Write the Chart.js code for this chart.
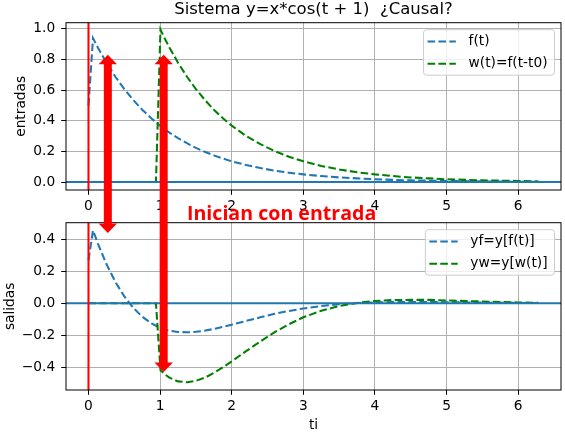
<!DOCTYPE html>
<html>
<head>
<meta charset="utf-8">
<script src="https://cdn.jsdelivr.net/npm/chart.js@4.4.1/dist/chart.umd.min.js"></script>
<style>
  html, body { margin: 0; padding: 0; background: #fff; }
  #fig { position: relative; width: 565px; height: 437px; }
  #fig canvas { position: absolute; left: 0; top: 0; }
</style>
</head>
<body>
<div id="fig">
  <canvas id="entradas" width="565" height="437"></canvas>
  <canvas id="salidas" width="565" height="437"></canvas>
</div>
<script>
(function () {
  'use strict';

  // ── data ────────────────────────────────────────────────────────────
  var t  = [0, 0.063, 0.13, 0.25, 0.38, 0.5, 0.63, 0.75, 0.88, 0.942,
            1.005, 1.07, 1.13, 1.25, 1.38, 1.5, 1.63, 1.75, 1.88, 2.0,
            2.2, 2.4, 2.6, 2.8, 3.0, 3.25, 3.5, 3.75, 4.0, 4.25,
            4.5, 4.75, 5.0, 5.5, 6.0, 6.28];
  var f  = [0.5, 0.939, 0.878, 0.779, 0.684, 0.607, 0.533, 0.472, 0.415, 0.39,
            0.366, 0.343, 0.323, 0.287, 0.252, 0.223, 0.196, 0.174, 0.153, 0.135,
            0.111, 0.091, 0.074, 0.061, 0.05, 0.039, 0.03, 0.024, 0.018, 0.014,
            0.011, 0.009, 0.007, 0.004, 0.002, 0.002];
  var w  = [0, 0, 0, 0, 0, 0, 0, 0, 0, 0,
            0.995, 0.932, 0.878, 0.779, 0.684, 0.607, 0.533, 0.472, 0.415, 0.368,
            0.301, 0.247, 0.202, 0.165, 0.135, 0.105, 0.082, 0.064, 0.05, 0.039,
            0.03, 0.024, 0.018, 0.011, 0.007, 0.005];
  var yf = [0.27, 0.456, 0.375, 0.245, 0.13, 0.043, -0.031, -0.084, -0.126, -0.141,
            -0.154, -0.164, -0.172, -0.18, -0.182, -0.179, -0.171, -0.161, -0.148, -0.134,
            -0.111, -0.088, -0.066, -0.048, -0.033, -0.017, -0.006, 0.001, 0.005, 0.007,
            0.008, 0.008, 0.006, 0.004, 0.002, 0.001];
  var yw = [0, 0, 0, 0, 0, 0, 0, 0, 0, 0,
            -0.419, -0.446, -0.466, -0.489, -0.495, -0.486, -0.465, -0.436, -0.4, -0.364,
            -0.3, -0.239, -0.181, -0.131, -0.088, -0.047, -0.017, 0.002, 0.014, 0.02,
            0.021, 0.021, 0.017, 0.011, 0.005, 0.003];

  var xTicks    = [0, 1, 2, 3, 4, 5, 6];
  var topYTicks = [0, 0.2, 0.4, 0.6, 0.8, 1.0];
  var botYTicks = [-0.4, -0.2, 0, 0.2, 0.4];
  var xRange    = [-0.314, 6.597];
  var topYRange = [-0.052, 1.04];
  var botYRange = [-0.543, 0.504];

  // double arrows: x, tip in top axes, tip in bottom axes
  var arrowX   = [0.27, 1.05];
  var arrowTop = [0.83, 0.83];
  var arrowBot = [0.44, -0.43];
  var noteText = 'Inician con entrada';
  var noteX = 1.375, noteY = 0.518;
  var titleText = 'Sistema y=x*cos(t + 1)  \u00bfCausal?';

  var BLUE = '#1f77b4', GREEN = '#008000', RED = '#ff0000';
  var FONT = 'DejaVu Sans';
  var FS = 13.75;
  var LW = 2.06;
  var DASH = [7.6, 3.3];
  Chart.defaults.font.family = FONT;
  Chart.defaults.font.size = FS;
  Chart.defaults.color = '#000';

  function pts(xs, ys) {
    return xs.map(function (x, i) { return { x: x, y: ys[i] }; });
  }

  function fmt(v) {
    return v.toFixed(1).replace('-', '\u2212');
  }

  function dashed(label, data, color, order) {
    return { label: label, data: data, borderColor: color, borderWidth: LW,
             borderDash: DASH, pointRadius: 0, tension: 0, order: order };
  }

  function solid(data, color, order) {
    return { label: '', data: data, borderColor: color, borderWidth: LW,
             pointRadius: 0, tension: 0, order: order };
  }

  // frame + in-axes legend (matplotlib style)
  var framePlugin = {
    id: 'frameLegend',
    afterDatasetsDraw: function (chart) {
      var a = chart.chartArea, ctx = chart.ctx;
      ctx.save();
      ctx.strokeStyle = '#000';
      ctx.lineWidth = 1;
      ctx.strokeRect(a.left, a.top, a.right - a.left, a.bottom - a.top);

      var items = chart.data.datasets.filter(function (d) { return d.label; });
      ctx.font = FS + 'px "' + FONT + '"';
      var tw = 0;
      items.forEach(function (it) { tw = Math.max(tw, ctx.measureText(it.label).width); });
      var width = 4 + 28.3 + 12.7 + tw + 7, height = 45.5;
      var right = a.right - 6.5, top = a.top + 7, left = right - width;
      ctx.fillStyle = 'rgba(255,255,255,0.8)';
      ctx.strokeStyle = '#cccccc';
      ctx.beginPath();
      ctx.roundRect(left, top, width, height, 3);
      ctx.fill();
      ctx.stroke();
      items.forEach(function (it, i) {
        var y = top + 11.8 + i * 22.2;
        ctx.strokeStyle = it.borderColor;
        ctx.lineWidth = LW;
        ctx.setLineDash(DASH);
        ctx.beginPath();
        ctx.moveTo(left + 4, y);
        ctx.lineTo(left + 32.3, y);
        ctx.stroke();
        ctx.setLineDash([]);
        ctx.fillStyle = '#000';
        ctx.textBaseline = 'middle';
        ctx.fillText(it.label, left + 45, y);
      });
      ctx.restore();
    }
  };

  // title centred over the axes, like matplotlib
  var titlePlugin = {
    id: 'axTitle',
    afterDraw: function (chart) {
      var a = chart.chartArea, ctx = chart.ctx;
      ctx.save();
      ctx.font = '16.5px "' + FONT + '"';
      ctx.fillStyle = '#000';
      ctx.textAlign = 'center';
      ctx.textBaseline = 'alphabetic';
      ctx.fillText(titleText, (a.left + a.right) / 2, 13.5);
      ctx.restore();
    }
  };

  function scales(yRange, yTicks, yTitle, yTitlePad, xHeight, xTitle) {
    var grid = { color: '#b0b0b0', lineWidth: 1, tickLength: 4.8, tickColor: '#000', tickWidth: 1 };
    return {
      x: {
        type: 'linear', min: xRange[0], max: xRange[1],
        grid: grid, border: { display: false },
        ticks: { padding: 3.5, maxRotation: 0, callback: function (v) { return String(v); } },
        afterBuildTicks: function (s) { s.ticks = xTicks.map(function (v) { return { value: v }; }); },
        afterFit: function (s) { s.height = xHeight; },
        title: xTitle ? { display: true, text: xTitle, padding: { top: 0, bottom: 3.8 } }
                      : { display: false }
      },
      y: {
        type: 'linear', min: yRange[0], max: yRange[1],
        grid: grid, border: { display: false },
        ticks: { padding: 6, callback: function (v) { return fmt(v); } },
        afterBuildTicks: function (s) { s.ticks = yTicks.map(function (v) { return { value: v }; }); },
        afterFit: function (s) { s.width = 66; },
        title: { display: true, text: yTitle, padding: { top: yTitlePad, bottom: 0 } }
      }
    };
  }

  // ── entradas ────────────────────────────────────────────────────────
  var topChart = new Chart(document.getElementById('entradas'), {
    type: 'line',
    data: {
      datasets: [
        solid([{ x: 0, y: topYRange[0] }, { x: 0, y: topYRange[1] }], RED, 0),
        solid([{ x: xRange[0], y: 0 }, { x: xRange[1], y: 0 }], BLUE, 1),
        dashed('f(t)', pts(t, f), BLUE, 3),
        dashed('w(t)=f(t-t0)', pts(t, w), GREEN, 2)
      ]
    },
    options: {
      responsive: false,
      animation: false,
      layout: { padding: { top: 22.7, left: 0, right: 4, bottom: 0 } },
      plugins: { legend: { display: false }, tooltip: { enabled: false } },
      scales: scales(topYRange, topYTicks, 'entradas', 13.2, 247, null)
    },
    plugins: [framePlugin, titlePlugin]
  });

  // arrows + red note across both axes
  var overlayPlugin = {
    id: 'overlay',
    afterDraw: function (chart) {
      var ctx = chart.ctx;
      var xs = chart.scales.x, yb = chart.scales.y, yt = topChart.scales.y;
      ctx.save();
      ctx.fillStyle = RED;
      ctx.font = 'bold 19.6px "Open Sans"';
      ctx.textBaseline = 'alphabetic';
      ctx.fillText(noteText, xs.getPixelForValue(noteX), yb.getPixelForValue(noteY));
      var sw = 4, hw = 9.2, hl = 9.5;
      arrowX.forEach(function (ax, i) {
        var x = xs.getPixelForValue(ax);
        var y1 = yt.getPixelForValue(arrowTop[i]);
        var y2 = yb.getPixelForValue(arrowBot[i]);
        ctx.beginPath();
        ctx.moveTo(x, y1);
        ctx.lineTo(x + hw, y1 + hl);
        ctx.lineTo(x + sw, y1 + hl);
        ctx.lineTo(x + sw, y2 - hl);
        ctx.lineTo(x + hw, y2 - hl);
        ctx.lineTo(x, y2);
        ctx.lineTo(x - hw, y2 - hl);
        ctx.lineTo(x - sw, y2 - hl);
        ctx.lineTo(x - sw, y1 + hl);
        ctx.lineTo(x - hw, y1 + hl);
        ctx.closePath();
        ctx.fill();
      });
      ctx.restore();
    }
  };

  // ── salidas ─────────────────────────────────────────────────────────
  new Chart(document.getElementById('salidas'), {
    type: 'line',
    data: {
      datasets: [
        solid([{ x: 0, y: botYRange[0] }, { x: 0, y: botYRange[1] }], RED, 0),
        solid([{ x: xRange[0], y: 0 }, { x: xRange[1], y: 0 }], BLUE, 1),
        dashed('yf=y[f(t)]', pts(t, yf), BLUE, 3),
        dashed('yw=y[w(t)]', pts(t, yw), GREEN, 2)
      ]
    },
    options: {
      responsive: false,
      animation: false,
      layout: { padding: { top: 222.7, left: 0, right: 4, bottom: 0 } },
      plugins: { legend: { display: false }, tooltip: { enabled: false } },
      scales: scales(botYRange, botYTicks, 'salidas', 2.5, 47, 'ti')
    },
    plugins: [framePlugin, overlayPlugin]
  });
})();
</script>
</body>
</html>
